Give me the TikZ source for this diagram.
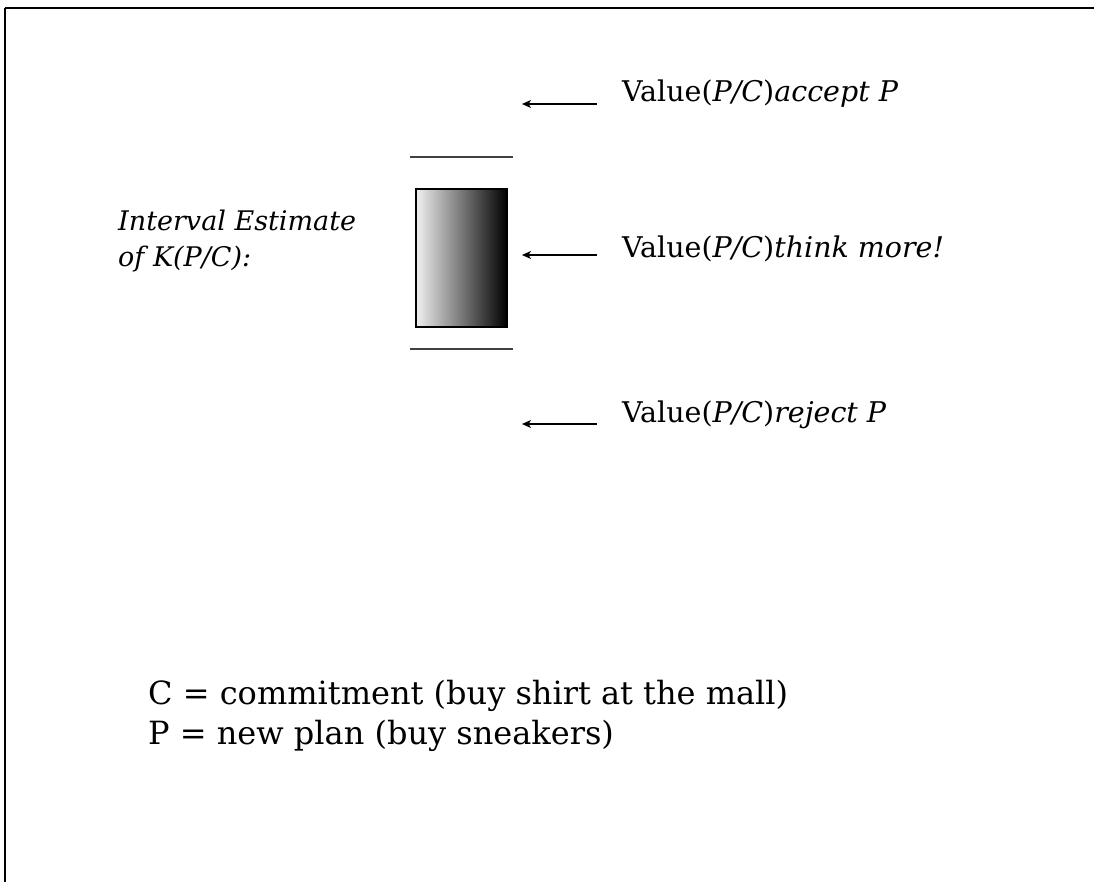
\documentclass[tikz,border=0pt]{standalone}
\usepackage{fontspec}
\setmainfont{DejaVu Serif}
\usetikzlibrary{arrows.meta}

\begin{document}
\begin{tikzpicture}[x=1pt,y=-1pt,
value/.style={anchor=base west,inner sep=0pt,font=\fontsize{28.5}{34}\selectfont},
note/.style={anchor=base west,inner sep=0pt,align=left,font=\fontsize{32}{40}\selectfont},
pointer/.style={draw,line width=1.3pt,-{Stealth[length=9pt,width=8pt,inset=2.5pt]}},
bound/.style={draw=black!75,line width=1.8pt},
interval/.style={draw,line width=1.2pt,minimum width=91pt,minimum height=138pt,left color=black!6,right color=black}
]
\useasboundingbox (0,0) rectangle (1094,882);
% frame
\draw[line width=2.2pt] (5,8) -- (1094,8);
\draw[line width=1.2pt] (5,8) -- (5,882);
% interval estimate
\node[style=note,font=\itshape\fontsize{27}{36}\selectfont] (estimate) at (118,267)
  {Interval Estimate\\of \textit{K}(\textit{P/C}):};
\node[style=interval] (box) at (461.5,258) {};
\draw[style=bound] (410,157) -- (513,157);
\draw[style=bound] (410,349) -- (513,349);
% values
\node[style=value] (accept) at (622,102) {Value(\textit{P/C})\textit{accept P}};
\node[style=value] (think) at (622,258) {Value(\textit{P/C})\textit{think more!}};
\node[style=value] (reject) at (622,422) {Value(\textit{P/C})\textit{reject P}};
\coordinate (accept tail) at (597,104);
\coordinate (accept head) at (522,104);
\coordinate (think tail) at (597,255);
\coordinate (think head) at (522,255);
\coordinate (reject tail) at (597,424);
\coordinate (reject head) at (522,424);
\path[style=pointer] (accept tail) -- (accept head);
\path[style=pointer] (think tail) -- (think head);
\path[style=pointer] (reject tail) -- (reject head);
% legend
\node[style=note] (legend) at (148,744)
  {C = commitment (buy shirt at the mall)\\P = new plan (buy sneakers)};
\end{tikzpicture}
\end{document}
